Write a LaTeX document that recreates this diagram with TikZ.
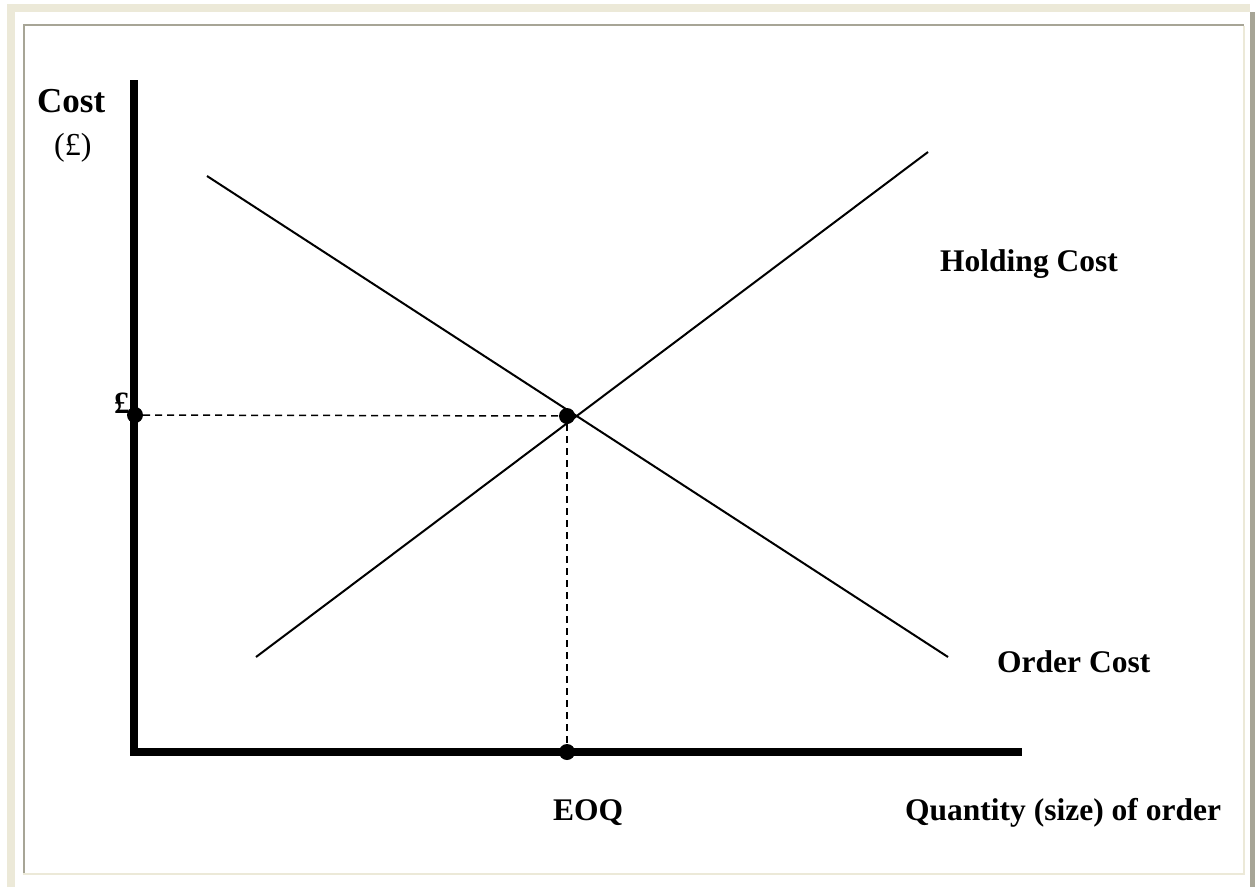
\documentclass[tikz,border=0pt]{standalone}
\usepackage{fontspec}
\setmainfont{Liberation Serif}
\usetikzlibrary{positioning}
\definecolor{framebeige}{HTML}{ECE9D8}
\definecolor{framegrey}{HTML}{A7A596}

\begin{document}
\begin{tikzpicture}[x=1pt,y=-1pt,
    lbl/.style={anchor=base west,inner sep=0pt,font=\fontsize{31.5}{34}\selectfont\bfseries},
    guide/.style={line width=1.5pt,dash pattern=on 7pt off 5pt},
    dot/.style={circle,fill=black,inner sep=0pt,minimum size=16pt}]
    \useasboundingbox (0,0) rectangle (1255,887);
    % frame
    \fill[framebeige] (7,4) rectangle (1250,12);
    \fill[framebeige] (7,4) rectangle (15,887);
    \fill[framegrey] (1250,12) rectangle (1255,887);
    \fill[framegrey] (23,24) rectangle (1244,26);
    \fill[framegrey] (23,24) rectangle (25,874);
    \fill[framebeige] (23,873) rectangle (1245,875);
    \fill[framebeige] (1243,26) rectangle (1245,875);
    % axes
    \draw[line width=8pt] (134,80)--(134,752)--(1022,752);
    % cost lines
    \draw[line width=2pt] (207,176)--(948,657);
    \draw[line width=2pt] (256,657)--(928,152);
    % EOQ point
    \node[dot] (ypt) at (135,415) {};
    \node[dot] (eoq) at (567,416) {};
    \node[dot] (xpt) at (567,752) {};
    \draw[guide] (ypt)--(eoq);
    \draw[guide] (eoq)--(xpt);
    % labels
    \node[lbl,font=\fontsize{35}{38}\selectfont\bfseries] (cost) at (37,112) {Cost};
    \node[lbl,font=\fontsize{32}{34}\selectfont] (unit) at (54,155) {(£)};
    \node[lbl,font=\fontsize{31}{33}\selectfont\bfseries] (pound) at (114,413) {£};
    \node[lbl] (hold) at (940,271) {Holding Cost};
    \node[lbl] (order) at (997,672) {Order Cost};
    \node[lbl] (eoqlbl) at (553,820) {EOQ};
    \node[lbl] (qty) at (905,820) {Quantity (size) of order};
\end{tikzpicture}
\end{document}
